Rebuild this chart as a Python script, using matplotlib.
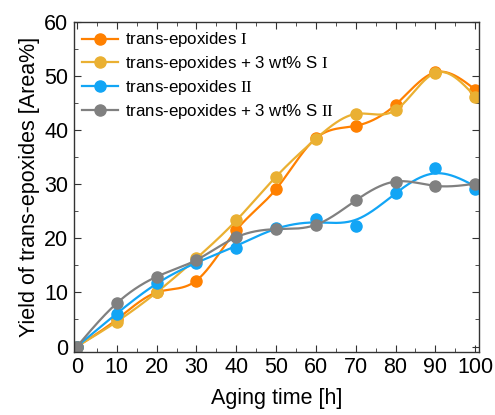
import numpy as np
import matplotlib
matplotlib.use("Agg")
import matplotlib.pyplot as plt
from matplotlib.ticker import MultipleLocator

plt.rcParams['font.family'] = ['Liberation Sans', 'DejaVu Sans']
plt.rcParams['mathtext.fontset'] = 'custom'
plt.rcParams['mathtext.rm'] = 'Liberation Serif'

hours = [0, 10, 20, 30, 40, 50, 60, 70, 80, 90, 100]
epox_1 = [0, 5.0, 10.0, 12.2, 21.5, 29.1, 38.5, 40.8, 44.7, 50.7, 47.5]
epox_1_s = [0, 4.6, 10.0, 16.3, 23.3, 31.4, 38.4, 43.0, 43.7, 50.6, 46.2]
epox_2 = [0, 6.0, 11.8, 15.5, 18.3, 22.0, 23.5, 22.3, 28.4, 33.0, 29.1]
epox_2_s = [0, 8.0, 12.9, 16.0, 20.2, 21.7, 22.5, 27.0, 30.5, 29.7, 30.1]

labels = ["trans-epoxides $\\mathrm{I}$",
          "trans-epoxides + 3 wt% S $\\mathrm{I}$",
          "trans-epoxides $\\mathrm{II}$",
          "trans-epoxides + 3 wt% S $\\mathrm{II}$"]
colors = ["#ff8000", "#eab032", "#12a5f5", "#808080"]
smooth = [1e-4, 1e-4, 6e4, 1e-4]


def smooth_curve(x, y, lam, step=0.1):
    # penalised least squares on a fine grid (spline-like curve)
    x = np.asarray(x, float)
    y = np.asarray(y, float)
    grid = np.arange(x[0], x[-1] + step / 2, step)
    m = len(grid)
    idx = np.rint((x - x[0]) / step).astype(int)
    A = np.zeros((len(x), m))
    A[np.arange(len(x)), idx] = 1.0
    D = np.diff(np.eye(m), 2, axis=0) / step ** 2
    M = A.T @ A + lam * step * (D.T @ D) * 1e-3
    f = np.linalg.solve(M, A.T @ y)
    return grid, f


fig = plt.figure(figsize=(4.95, 4.15), dpi=100)
ax = fig.add_axes([0.149, 0.152, 0.819, 0.795])

series = [epox_1, epox_1_s, epox_2, epox_2_s]
for ys, lab, c, lam in zip(series, labels, colors, smooth):
    gx, gy = smooth_curve(hours, ys, lam)
    ax.plot(gx, gy, color=c, lw=1.6)
    ax.plot(hours, ys, 'o', color=c, ms=8)
    ax.plot([], [], '-o', color=c, lw=1.6, ms=8, label=lab)

ax.set_xlim(-0.8, 101)
ax.set_ylim(-1, 60)
ax.xaxis.set_major_locator(MultipleLocator(10))
ax.xaxis.set_minor_locator(MultipleLocator(5))
ax.yaxis.set_major_locator(MultipleLocator(10))
ax.yaxis.set_minor_locator(MultipleLocator(5))
ax.tick_params(which='both', direction='in', top=True, right=True,
               labelsize=15.5, color='#333333')
ax.tick_params(which='major', length=5, pad=4)
ax.tick_params(which='minor', length=3)
for sp in ax.spines.values():
    sp.set_color('#333333')
    sp.set_linewidth(1)

ax.set_xlabel("Aging time [h]", fontsize=15.5, labelpad=7)
ax.set_ylabel("Yield of trans-epoxides [Area%]", fontsize=15.5, labelpad=3)

ax.legend(loc='upper left', frameon=False, fontsize=12.2, handlelength=2.1,
          handletextpad=0.45, labelspacing=0.28, borderaxespad=0.3,
          borderpad=0.2)

fig.savefig("out.png", dpi=100)
